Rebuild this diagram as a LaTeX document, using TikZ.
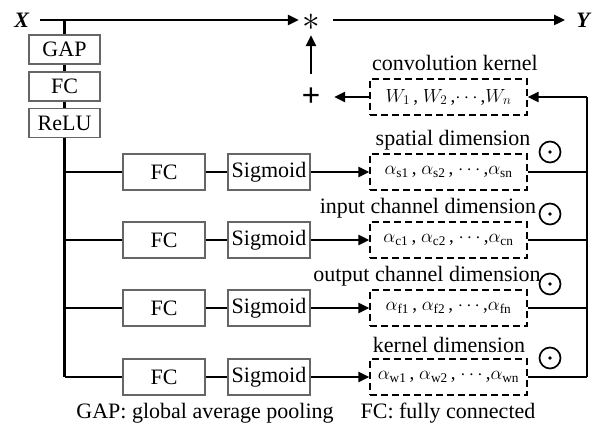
\RequirePackage{fix-cm}
\documentclass[tikz,border=0pt]{standalone}
\usepackage{fontspec}
\setmainfont{Liberation Serif}
\usetikzlibrary{arrows.meta}
\begin{document}
\begin{tikzpicture}[x=1pt,y=-1pt,font=\fontsize{22}{26}\selectfont,
  sbox/.style={draw=black!60,line width=1.1pt,minimum width=71pt,minimum height=29pt,inner sep=0pt},
  fbox/.style={draw=black!60,line width=1.1pt,minimum width=82pt,minimum height=36pt,inner sep=0pt},
  dbox/.style={draw,line width=1.3pt,dash pattern=on 7pt off 4pt,minimum width=157pt,minimum height=36pt,inner sep=0pt,font=\fontsize{19}{22}\selectfont},
  conn/.style={line width=2.4pt},
  arr/.style={conn,-{Triangle[length=11pt,width=10pt]}},
  odotc/.style={circle,draw,line width=1.7pt,minimum size=21pt,inner sep=0pt},
  lbl/.style={inner sep=0pt}]
\useasboundingbox (0,0) rectangle (600,427);
% top row
\node[lbl] (X) at (22,20) {\textbf{\textit{X}}};
\coordinate (xs) at (40,20);
\node[lbl,minimum width=24pt,minimum height=26pt] (star) at (311,22) {\scalebox{1.6}{$\ast$}};
\coordinate (ys) at (333,20);
\node[lbl] (Y) at (584,20) {\textbf{\textit{Y}}};
\coordinate (ye) at (565,20);
\draw[arr] (xs) -- (star.west |- xs);
\draw[arr] (ys) -- (ye);
% left stack
\coordinate (j0) at (64.5,20);
\node[sbox] (gap) at (64.5,49.5) {GAP};
\node[sbox] (fc0) at (64.5,86.5) {FC};
\node[sbox] (relu) at (64.5,123) {ReLU};
\draw[conn] (j0) -- (gap.north);
\draw[conn] (gap.south) -- (fc0.north);
\draw[conn] (fc0.south) -- (relu.north);
\coordinate (bend) at (64.5,377);
\draw[conn] (relu.south) -- (bend);
% kernel row
\node[lbl] (ck) at (455,63) {convolution kernel};
\node[dbox] (W) at (448.5,97) {$W_{1}$\,, $W_{2}$\,,$\cdots$\,,$W_{n}$};
\node[lbl,minimum width=46pt,minimum height=46pt] (plus) at (311,97) {\scalebox{1.5}{\textbf{+}}};
\draw[arr] (W.west) -- (plus.east);
\draw[arr] (plus.north) -- (star.south);
% branches
\foreach \i/\y/\s/\lab/\lx/\oy in {1/172/s/spatial dimension/453/152,2/240/c/input channel dimension/428/214,3/308/f/output channel dimension/427/284,4/377/w/kernel dimension/449/358}{
  \coordinate (b\i) at (64.5,\y);
  \node[fbox] (fc\i) at (164,\y) {FC};
  \node[fbox] (sg\i) at (269,\y) {Sigmoid};
  \node[dbox] (a\i) at (448.5,\y) {$\alpha_{\mathrm{\s1}}$\,, $\alpha_{\mathrm{\s2}}$\,, $\cdots$\,,$\alpha_{\mathrm{\s n}}$};
  \node[lbl] (t\i) at (\lx,\y-32) {\lab};
  \node[odotc] (o\i) at (550,\oy) {};
  \fill (o\i.center) circle (1.8pt);
  \coordinate (r\i) at (587,\y);
  \draw[conn] (b\i) -- (fc\i.west);
  \draw[conn] (fc\i.east) -- (sg\i.west);
  \draw[arr] (sg\i.east) -- (a\i.west);
  \draw[conn] (a\i.east) -- (r\i);
}
\coordinate (rt) at (587,97);
\draw[conn] (r4) -- (rt);
\draw[arr] (rt) -- (W.east);
% footer
\node[lbl] (n1) at (205,413) {GAP: global average pooling};
\node[lbl] (n2) at (448,413) {FC: fully connected};
\end{tikzpicture}
\end{document}
